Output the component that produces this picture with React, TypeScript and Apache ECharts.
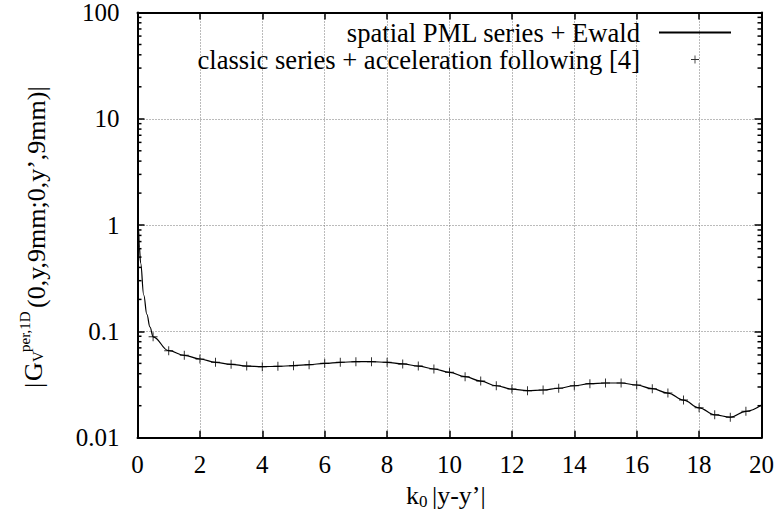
import React, { useEffect, useRef } from 'react';
import * as echarts from 'echarts';

// x positions of the "+" markers (classic series + acceleration)
const markerX = [0.5, 1, 1.5, 2, 2.5, 3, 3.5, 4, 4.5, 5, 5.5, 6, 6.5, 7, 7.5, 8, 8.5, 9, 9.5, 10,
  10.5, 11, 11.5, 12, 12.5, 13, 13.5, 14, 14.5, 15, 15.5, 16, 16.5, 17, 17.5, 18, 18.5, 19, 19.5];
const markerY = [0.089, 0.0658, 0.0596, 0.055, 0.0512, 0.049, 0.0472, 0.0466, 0.0469, 0.0476,
  0.0486, 0.0501, 0.0512, 0.0519, 0.0519, 0.0512, 0.0494, 0.0472, 0.0443, 0.0412,
  0.0375, 0.0341, 0.0308, 0.0287, 0.0277, 0.0281, 0.0292, 0.0308, 0.0322, 0.0327,
  0.0327, 0.0313, 0.0289, 0.0263, 0.0226, 0.0191, 0.0164, 0.0156, 0.0177];

// continuous curve (spatial PML series + Ewald)
const lineHeadX = [0.01, 0.03, 0.06, 0.1, 0.2, 0.3, 0.4];
const lineHeadY = [1.8, 0.95, 0.62, 0.44, 0.22, 0.145, 0.11];
const lineTailX = [20];
const lineTailY = [0.0203];

const xTicks = [0, 2, 4, 6, 8, 10, 12, 14, 16, 18, 20];
const yTickLabels = ['0.01', '0.1', '1', '10', '100'];
const yMinorTicks = [0.02, 0.03, 0.04, 0.05, 0.06, 0.07, 0.08, 0.09,
  0.2, 0.3, 0.4, 0.5, 0.6, 0.7, 0.8, 0.9,
  2, 3, 4, 5, 6, 7, 8, 9,
  20, 30, 40, 50, 60, 70, 80, 90];

const seriesNames = ['spatial PML series + Ewald', 'classic series + acceleration following [4]'];

const FONT = 'Liberation Serif';
const PLUS = 'path://M4,0h1v4h4v1h-4v4h-1v-4h-4v-1h4z';

export default function App() {
  const ref = useRef<HTMLDivElement>(null);
  useEffect(() => {
    if (!ref.current) return;
    const chart = echarts.init(ref.current, undefined, { renderer: 'svg' });
    const lineX = [...lineHeadX, ...markerX, ...lineTailX];
    const lineY = [...lineHeadY, ...markerY, ...lineTailY];
    const lineData = lineX.map((x, i) => [x, lineY[i]]);
    const markerData = markerX.map((x, i) => [x, markerY[i]]);
    const xMin = xTicks[0];
    const xMax = xTicks[xTicks.length - 1];
    const yMin = Number(yTickLabels[0]);
    const yMax = Number(yTickLabels[yTickLabels.length - 1]);
    const axisLine = { show: true, onZero: false, lineStyle: { color: '#000', width: 2 } };
    const tick = { show: true, inside: true, length: 7, lineStyle: { color: '#000', width: 1.5 } };
    const split = { show: true, lineStyle: { color: '#777', type: [1, 2], width: 1 } };
    const labelStyle = { color: '#000', fontFamily: FONT, fontSize: 25 };
    const t = (s: string, x: number, y: number, size: number) => ({
      type: 'text', x, y,
      style: { text: s, fontFamily: FONT, fontSize: size, fill: '#000', align: 'left', verticalAlign: 'middle' },
    });

    chart.setOption({
      animation: false,
      backgroundColor: '#fff',
      textStyle: { fontFamily: FONT, color: '#000' },
      grid: { left: 137.5, right: 19.5, top: 11.7, bottom: 85.3, containLabel: false },
      legend: {
        data: [
          { name: seriesNames[0], itemStyle: { color: 'rgba(0,0,0,0)', borderWidth: 0, opacity: 0 } },
          { name: seriesNames[1] },
        ],
        orient: 'vertical',
        align: 'right',
        right: 49,
        top: 19,
        padding: 0,
        itemWidth: 72,
        itemHeight: 8,
        itemGap: 0,
        textStyle: { color: '#000', fontFamily: FONT, fontSize: 26.6, lineHeight: 27, padding: [0, 14, 0, 0] },
        selectedMode: false,
      },
      xAxis: [
        {
          type: 'value', min: xMin, max: xMax, interval: 2, position: 'bottom',
          axisLine, axisTick: tick, splitLine: split,
          axisLabel: { ...labelStyle, margin: 14 },
        },
        {
          type: 'value', min: xMin, max: xMax, interval: 2, position: 'top',
          axisLine, axisTick: tick, splitLine: { show: false }, axisLabel: { show: false },
        },
      ],
      yAxis: [
        {
          type: 'log', logBase: 10, min: yMin, max: yMax, position: 'left',
          axisLine, axisTick: tick, splitLine: split,
          axisLabel: { ...labelStyle, margin: 18, formatter: (v: number) => {
            const idx = Math.round(Math.log10(v) - Math.log10(yMin));
            return yTickLabels[idx] ?? String(v);
          } },
        },
        {
          type: 'log', logBase: 10, min: yMin, max: yMax, position: 'right',
          axisLine, axisTick: tick, splitLine: { show: false }, axisLabel: { show: false },
        },
      ],
      series: [
        {
          name: seriesNames[0], type: 'line', data: lineData, symbol: 'none',
          smooth: 0.4, smoothMonotone: 'x',
          lineStyle: { color: '#000', width: 1.2 }, itemStyle: { color: '#000' },
          xAxisIndex: 0, yAxisIndex: 0, z: 3,
        },
        {
          name: seriesNames[1], type: 'scatter', data: markerData, symbol: PLUS, symbolSize: 9,
          itemStyle: { color: '#000' }, xAxisIndex: 0, yAxisIndex: 0, z: 4,
        },
        {
          name: 'minor', type: 'custom', xAxisIndex: 0, yAxisIndex: 0, clip: false, silent: true,
          data: yMinorTicks.map((v) => [xMin, v]),
          renderItem: (params: any, api: any) => {
            const v = api.value(1);
            const pl = api.coord([xMin, v]);
            const pr = api.coord([xMax, v]);
            return {
              type: 'group',
              children: [
                { type: 'line', shape: { x1: pl[0], y1: pl[1], x2: pl[0] + 4, y2: pl[1] }, style: { stroke: '#000', lineWidth: 1.5 } },
                { type: 'line', shape: { x1: pr[0] - 4, y1: pr[1], x2: pr[0], y2: pr[1] }, style: { stroke: '#000', lineWidth: 1.5 } },
              ],
            };
          },
          z: 5,
        },
      ],
      graphic: [
        {
          type: 'group', x: 33, y: 390, rotation: Math.PI / 2,
          children: [
            t('|', 2, 0, 26),
            t('G', 9, 0, 26),
            t('V', 28, 5, 15),
            t('per,1D', 38, -8, 15),
            t('(0,y,9mm;0,y’,9mm)|', 82, 3, 26),
          ],
        },
        {
          type: 'group', x: 406, y: 495,
          children: [
            t('k', 0, 0, 26),
            t('0', 13, 6, 17),
            t('|y-y’|', 26, 0, 26),
          ],
        },
      ],
    });
    return () => chart.dispose();
  }, []);
  return <div ref={ref} style={{ position: 'fixed', left: 0, top: 0, width: 781, height: 523, background: '#fff' }} />;
}
